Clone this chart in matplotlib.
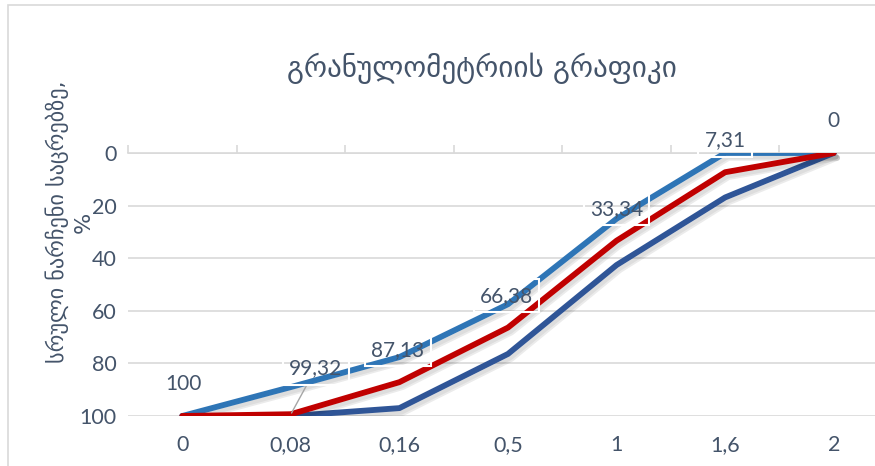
import matplotlib
matplotlib.use("Agg")
import matplotlib.pyplot as plt
import matplotlib.patheffects as pe
from matplotlib.patches import Rectangle
import numpy as np

# sieve sizes (categories) and residues, %
sieves = ["0", "0,08", "0,16", "0,5", "1", "1,6", "2"]
upper_limit = [100, 89, 77.6, 57.5, 25, 0, 0]
sample = [100, 99.32, 87.13, 66.38, 33.34, 7.31, 0]
lower_limit = [100, 100, 97, 76.4, 42.6, 16.9, 0]
sample_labels = ["100", "99,32", "87,13", "66,38", "33,34", "7,31", "0"]

title = "გრანულომეტრიის გრაფიკი"
ylabel = "სრული ნარჩენი საცრებზე,\n%"

text_color = "#44546A"
grid_color = "#D9D9D9"

fig = plt.figure(figsize=(8.75, 4.66), dpi=100)
fig.patch.set_facecolor("white")

# chart frame (right and bottom edges fall outside the crop)
fig.patches.append(Rectangle((8 / 875, -0.1), 1.2, 1 - 5 / 466 + 0.1,
                             transform=fig.transFigure, fill=False,
                             ec=grid_color, lw=1.2))

ax = fig.add_axes([128 / 875, 1 - 416 / 466, 760 / 875, 263 / 466])
x = np.arange(len(sieves))

shadow = [pe.SimpleLineShadow(offset=(2.5, -3.5), shadow_color="black", alpha=0.08),
          pe.SimpleLineShadow(offset=(1.5, -2.5), shadow_color="black", alpha=0.06),
          pe.Normal()]

ax.plot(x, upper_limit, color="#2E75B6", lw=4.2, solid_capstyle="round",
        solid_joinstyle="round", path_effects=shadow, zorder=3)
ax.plot(x, lower_limit, color="#2F5597", lw=4.2, solid_capstyle="round",
        solid_joinstyle="round", path_effects=shadow, zorder=3)
ax.plot(x, sample, color="#C00000", lw=4.2, solid_capstyle="round",
        solid_joinstyle="round", path_effects=shadow, zorder=4)

# data labels above the sample line
offsets = [(1, 23), (18, 33), (-1, 23), (-1, 23), (0, 23), (0, 23), (0, 23)]
for xi, yi, lab, off in zip(x, sample, sample_labels, offsets):
    arrow = None
    if off[1] > 30:
        arrow = dict(arrowstyle="-", color="#A6A6A6", lw=1, shrinkA=0, shrinkB=1)
    ax.annotate(lab, (xi, yi), xytext=off, textcoords="offset points",
                ha="center", va="center", fontsize=15, family=["Lato", "DejaVu Sans"],
                color=text_color, zorder=6, arrowprops=arrow,
                bbox=dict(boxstyle="square,pad=0.3", fc="none", ec="white", lw=1.5))

ax.set_xlim(-0.5, len(sieves) - 0.5)
ax.set_ylim(100, 0)
ax.set_yticks([0, 20, 40, 60, 80, 100])
ax.set_xticks(x)
ax.set_xticklabels(sieves)
ax.set_xticks(np.arange(len(sieves) + 1) - 0.5, minor=True)

for s in ["left", "right", "bottom"]:
    ax.spines[s].set_visible(False)
ax.spines["top"].set_color(grid_color)
ax.spines["top"].set_linewidth(1.2)

ax.grid(axis="y", color=grid_color, lw=1.2)
ax.set_axisbelow(True)
ax.tick_params(axis="both", which="major", length=0, labelsize=15.5,
               labelcolor=text_color, pad=8)
ax.tick_params(axis="x", which="major", pad=14)
ax.tick_params(axis="x", which="minor", bottom=False, top=True, length=6,
               color=grid_color, width=1.2)
for lbl in ax.get_xticklabels() + ax.get_yticklabels():
    lbl.set_family(["Lato", "DejaVu Sans"])

fig.text(482 / 875, 1 - 68 / 466, title, ha="center", va="center",
         fontsize=21, color=text_color, family=["DejaVu Sans"])
fig.text(70 / 875, 1 - 222 / 466, ylabel, ha="center", va="center", rotation=90,
         fontsize=16, color=text_color, family=["DejaVu Sans"], linespacing=1.3)

fig.savefig("out.png", dpi=100)
